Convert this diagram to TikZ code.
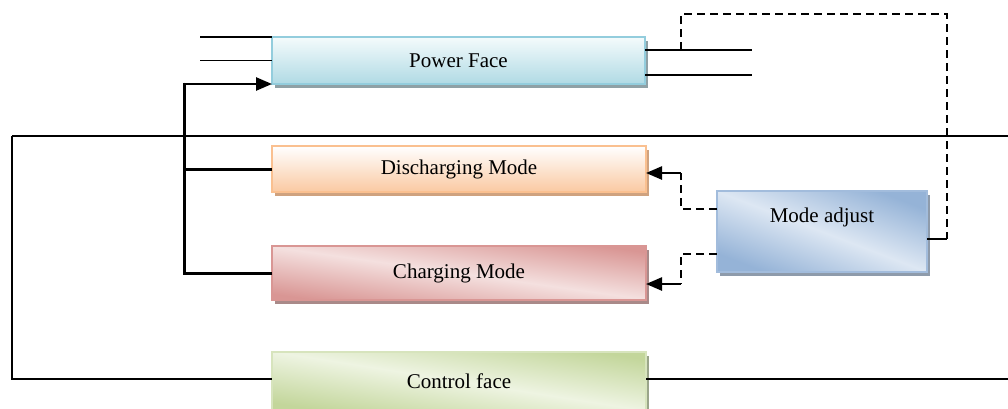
\documentclass[tikz,border=0pt]{standalone}
\usepackage{fontspec}
\setmainfont{Liberation Serif}
\usetikzlibrary{arrows.meta,shadows}
\definecolor{pfBot}{HTML}{B0DAE4}
\definecolor{pfTop}{HTML}{F4FBFC}
\definecolor{pfBorder}{HTML}{93CDDD}
\definecolor{pfShadow}{HTML}{8FA1A6}
\definecolor{dmBot}{HTML}{FAC9A2}
\definecolor{dmBorder}{HTML}{FAC090}
\definecolor{dmShadow}{HTML}{CFA27F}
\definecolor{cmDark}{HTML}{D99694}
\definecolor{cmMid}{HTML}{F4E0DF}
\definecolor{cmShadow}{HTML}{A98A89}
\definecolor{maDark}{HTML}{95B3D7}
\definecolor{maMid}{HTML}{DDE7F3}
\definecolor{maBorder}{HTML}{A2BCDC}
\definecolor{maShadow}{HTML}{8E9BAB}
\definecolor{cfDark}{HTML}{C3D69B}
\definecolor{cfMid}{HTML}{EEF4E2}
\definecolor{cfBorder}{HTML}{D7E4BD}
\definecolor{cfShadow}{HTML}{9AA58A}
\tikzset{
  boxbase/.style={rectangle, inner sep=0pt, outer sep=0pt, line width=2pt,
    font=\fontsize{21}{25}\selectfont, text=black},
  shad/.style={drop shadow={shadow xshift=3pt, shadow yshift=-4pt, fill=#1, opacity=1}},
  pfbox/.style={boxbase, draw=pfBorder, top color=pfTop, bottom color=pfBot, shad=pfShadow,
    minimum width=373pt, minimum height=47pt},
  dmbox/.style={boxbase, draw=dmBorder, top color=white, bottom color=dmBot, shad=dmShadow,
    minimum width=374pt, minimum height=46pt},
  cmbox/.style={boxbase, draw=cmDark, left color=cmDark, right color=cmDark, middle color=cmMid,
    shading angle=172, shad=cmShadow, minimum width=374pt, minimum height=54pt},
  mabox/.style={boxbase, draw=maBorder, left color=maDark, right color=maDark, middle color=maMid,
    shading angle=159, shad=maShadow, minimum width=210pt, minimum height=81pt},
  cfbox/.style={boxbase, draw=cfBorder, left color=cfDark, right color=cfDark, middle color=cfMid,
    shading angle=171, shad=cfShadow, minimum width=374pt, minimum height=58pt},
  thinline/.style={line width=1.5pt, black},
  busline/.style={line width=3pt, black},
  dashline/.style={line width=1.7pt, black, dash pattern=on 8pt off 5pt},
  tip/.style={-{Triangle[length=16pt,width=13pt]}},
  arrline/.style={line width=2.5pt, black, tip},
}
\begin{document}
\begin{tikzpicture}[x=1pt,y=-1pt]
\useasboundingbox (0,0) rectangle (1008,408);
% nodes
\node[pfbox] (pf) at (458.5,60.5) {Power Face};
\node[dmbox] (dm) at (459,169) {Discharging Mode};
\node[cmbox] (cm) at (459,273) {Charging Mode};
\node[mabox] (ma) at (822,231.5) {};
\node[font=\fontsize{21}{25}\selectfont, inner sep=0pt] (matext) at (822,217) {Mode adjust};
\node[cfbox] (cf) at (459,381) {Control face};
% coordinates
\coordinate (l1) at (200,37);
\coordinate (l2) at (200,60.5);
\coordinate (r1) at (752,50);
\coordinate (r2) at (752,75);
\coordinate (tap) at (681,50);
\coordinate (dtop) at (681,14);
\coordinate (dright) at (947,14);
\coordinate (dend) at (947,239);
\coordinate (bus) at (184,84);
\coordinate (ftl) at (12,136);
\coordinate (ftr) at (1008,136);
\coordinate (fbl) at (12,379);
\coordinate (fbr) at (1008,379);
\coordinate (ajx) at (681,0);
% power face side lines
\draw[thinline] (l1) -- (pf.north west);
\draw[thinline] (l2) -- (pf.west);
\draw[thinline] (pf.east |- r1) -- (r1);
\draw[thinline] (pf.east |- r2) -- (r2);
% dashed feedback
\draw[dashline] (tap) -- (dtop) -- (dright) -- (dend);
\draw[thinline] (ma.east |- dend) -- (dend);
% frame
\draw[thinline] (ftl) -- (ftr);
\draw[thinline] (ftl) -- (fbl) -- (cf.west |- fbl);
\draw[thinline] (cf.east |- fbr) -- (fbr);
% bus
\draw[busline] (cm.west) -| (bus);
\draw[busline] (dm.west) -- (dm.west -| bus);
\draw[arrline, line join=miter] ([yshift=1.5pt]bus) -- (bus) -- (pf.south west);
% mode adjust arrows
\draw[dashline] (ma.west |- 0,209) -- (ajx |- 0,209) -- (ajx |- 0,173);
\draw[arrline] (ajx |- 0,173) -- (dm.east |- 0,173);
\draw[dashline] (ma.west |- 0,254) -- (ajx |- 0,254) -- (ajx |- 0,284);
\draw[arrline] (ajx |- 0,284) -- (cm.east |- 0,284);
\end{tikzpicture}
\end{document}
